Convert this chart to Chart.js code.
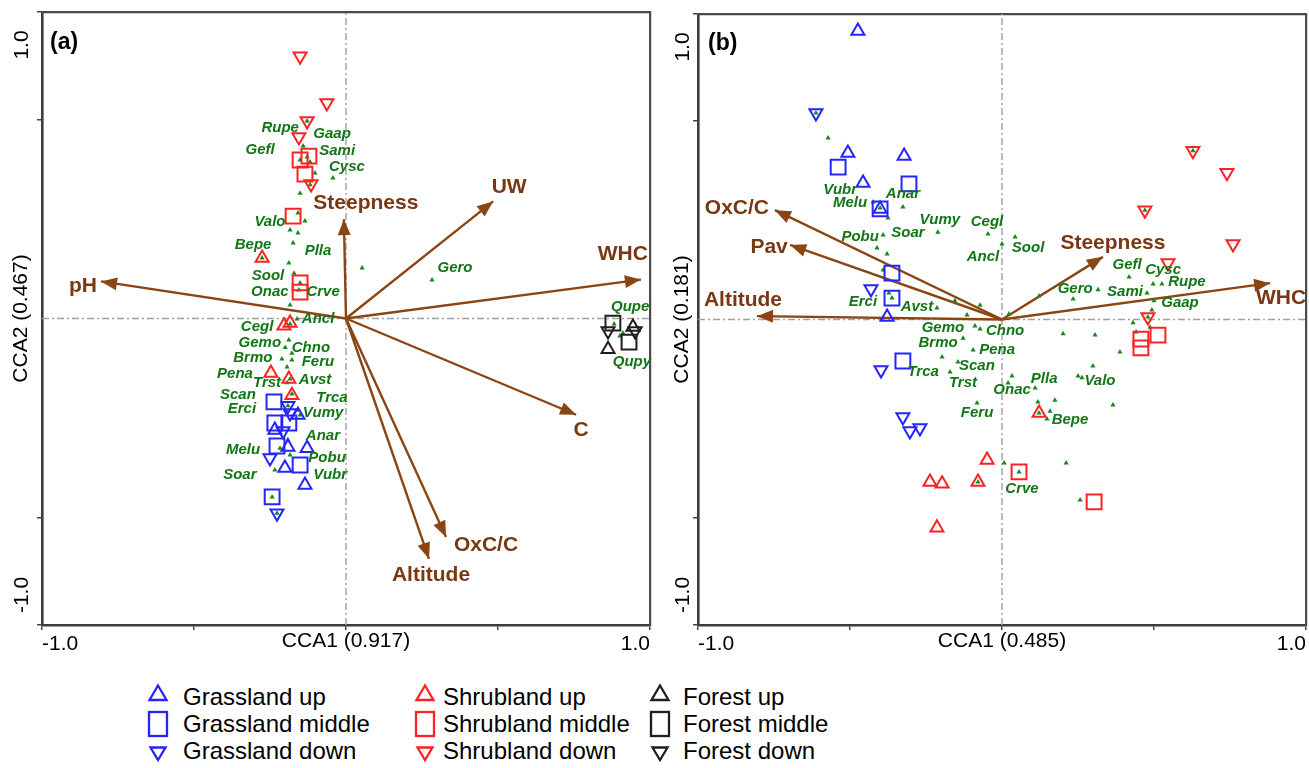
<!DOCTYPE html>
<html><head><meta charset="utf-8">
<script src="https://cdn.jsdelivr.net/npm/chart.js@4.4.1/dist/chart.umd.min.js"></script>
<style>
html,body{margin:0;padding:0;background:#fff;}
body{width:1309px;height:768px;overflow:hidden;position:relative;font-family:"Liberation Sans",Arial,sans-serif;}
#ca{position:absolute;left:0;top:0;}
#cb{position:absolute;left:655px;top:0;}
.lgt{position:absolute;font-size:24px;line-height:24px;color:#000;white-space:nowrap;}
.lgs{position:absolute;}
</style></head><body>
<canvas id="ca" width="662" height="660"></canvas>
<canvas id="cb" width="654" height="660"></canvas>
<div id="legend"></div>
<script>
// ================= DATA : panel (a) =================
const axisTitlesA = ['CCA1 (0.917)', 'CCA2 (0.467)'];
const envNamesA = ['pH','Steepness','UW','WHC','C','OxC/C','Altitude'];
const envPtsA = [[-0.806,0.121],[-0.007,0.324],[0.484,0.382],[0.970,0.127],[0.757,-0.314],[0.329,-0.713],[0.273,-0.784]];
const speciesNamesA = ['Rupe','Gaap','Gefl','Sami','Cysc','Valo','Bepe','Plla','Sool','Onac','Crve','Gero','Ancl','Cegl','Gemo','Chno','Brmo','Feru','Pena','Trst','Avst','Scan','Trca','Erci','Vumy','Anar','Melu','Pobu','Soar','Vubr','Qupe','Qupy'];
const speciesPtsA = [[-0.141,0.563],[-0.128,0.527],[-0.151,0.517],[-0.118,0.511],[-0.043,0.458],[-0.158,0.344],[-0.276,0.197],[-0.158,0.279],[-0.171,0.148],[-0.155,0.093],[-0.151,0.116],[0.283,0.126],[-0.161,-0.002],[-0.184,-0.018],[-0.188,-0.070],[-0.178,-0.113],[-0.211,-0.132],[-0.178,-0.135],[-0.194,-0.158],[-0.194,-0.210],[-0.184,-0.197],[-0.178,-0.246],[-0.158,-0.299],[-0.191,-0.285],[-0.151,-0.315],[-0.191,-0.396],[-0.217,-0.423],[-0.184,-0.445],[-0.234,-0.494],[-0.243,-0.582],[0.882,-0.018],[0.901,-0.057]];
const otherSpeciesA = [[-0.151,0.409],[-0.118,0.436],[-0.102,0.475],[-0.135,0.318],[-0.184,0.289],[-0.174,0.246],[-0.188,0.181],[0.053,0.165],[-0.184,0.044],[-0.128,0.644],[-0.227,-0.635],[0.911,-0.047],[-0.200,-0.095]];
const grassUpA   = [[-0.158,-0.315],[-0.234,-0.364],[-0.191,-0.419],[-0.128,-0.423],[-0.201,-0.488],[-0.135,-0.543]];
const grassMidA  = [[-0.237,-0.272],[-0.234,-0.341],[-0.188,-0.341],[-0.227,-0.416],[-0.151,-0.478],[-0.243,-0.582]];
const grassDownA = [[-0.191,-0.285],[-0.184,-0.308],[-0.207,-0.367],[-0.250,-0.455],[-0.227,-0.635]];
const shrubUpA   = [[-0.276,0.197],[-0.184,-0.015],[-0.204,-0.024],[-0.247,-0.178],[-0.188,-0.197],[-0.178,-0.250]];
const shrubMidA  = [[-0.122,0.530],[-0.151,0.517],[-0.135,0.471],[-0.174,0.334],[-0.151,0.116],[-0.151,0.086]];
const shrubDownA = [[-0.151,0.856],[-0.063,0.703],[-0.128,0.644],[-0.155,0.592],[-0.115,0.439]];
const forestUpA  = [[0.862,-0.100],[0.944,-0.028]];
const forestMidA = [[0.878,-0.015],[0.931,-0.077]];
const forestDownA= [[0.862,-0.041],[0.951,-0.041]];

// ================= DATA : panel (b) =================
const axisTitlesB = ['CCA1 (0.485)', 'CCA2 (0.181)'];
const envNamesB = ['OxC/C','Pav','Altitude','Steepness','WHC'];
const envPtsB = [[-0.747,0.358],[-0.697,0.244],[-0.806,0.011],[0.332,0.205],[0.882,0.119]];
const speciesNamesB = ['Vubr','Melu','Anar','Pobu','Soar','Vumy','Cegl','Ancl','Sool','Erci','Avst','Gemo','Chno','Brmo','Pena','Trca','Scan','Trst','Onac','Plla','Feru','Bepe','Valo','Crve','Gero','Gefl','Cysc','Sami','Rupe','Gaap'];
const speciesPtsB = [[-0.401,0.365],[-0.424,0.385],[-0.326,0.368],[-0.391,0.277],[-0.375,0.332],[-0.211,0.286],[-0.046,0.280],[0.000,0.247],[0.043,0.270],[-0.372,0.087],[-0.214,0.038],[-0.089,-0.021],[-0.072,-0.031],[-0.128,-0.061],[-0.095,-0.100],[-0.197,-0.123],[-0.145,-0.139],[-0.171,-0.172],[0.020,-0.208],[0.109,-0.224],[-0.082,-0.273],[0.148,-0.326],[0.263,-0.191],[0.056,-0.499],[0.234,0.067],[0.418,0.139],[0.497,0.116],[0.477,0.087],[0.526,0.116],[0.500,0.061]];
const otherSpeciesB = [[-0.572,0.594],[-0.612,0.676],[0.033,-0.185],[0.122,0.077],[0.201,-0.047],[0.250,-0.185],[0.174,-0.264],[0.158,-0.300],[0.118,-0.270],[0.122,-0.306],[0.007,-0.470],[0.211,-0.470],[0.257,-0.591],[-0.079,-0.532],[0.628,0.552],[0.470,0.358],[0.480,0.008],[0.431,-0.011],[0.306,-0.051],[0.441,-0.041],[0.487,-0.025],[0.388,-0.106],[0.493,0.031],[-0.155,0.061],[-0.072,0.047],[-0.115,0.015],[0.023,0.018],[-0.411,0.234],[-0.378,0.214],[-0.391,0.162],[0.365,-0.280],[0.299,-0.152],[0.316,0.097],[-0.362,0.070]];
const grassUpB   = [[-0.474,0.944],[-0.507,0.545],[-0.322,0.535],[-0.457,0.447],[-0.401,0.362],[-0.378,0.008]];
const grassMidB  = [[-0.539,0.499],[-0.306,0.444],[-0.401,0.362],[-0.362,0.152],[-0.362,0.070],[-0.326,-0.136]];
const grassDownB = [[-0.612,0.676],[-0.431,0.100],[-0.398,-0.165],[-0.326,-0.319],[-0.303,-0.365],[-0.270,-0.355]];
const shrubUpB   = [[0.122,-0.306],[-0.049,-0.460],[-0.237,-0.532],[-0.197,-0.538],[-0.079,-0.532],[-0.214,-0.682]];
const shrubMidB  = [[0.513,-0.051],[0.457,-0.064],[0.457,-0.093],[0.056,-0.499],[0.303,-0.597]];
const shrubDownB = [[0.628,0.552],[0.740,0.480],[0.470,0.358],[0.760,0.247],[0.546,0.185],[0.480,0.008]];
const forestUpB = [], forestMidB = [], forestDownB = [];

// tick values / labels
const xTickVals = [-1,-0.5,0,0.5,1];
const yTickVals = [-1,-0.65,0.65,1];
const endTickLabels = ['-1.0','1.0'];
const legendLabels = [['Grassland up','Grassland middle','Grassland down'],['Shrubland up','Shrubland middle','Shrubland down'],['Forest up','Forest middle','Forest down']];

// ================= LAYOUT (pixel offsets of text labels) =================
const envLabelOffA = [[-18,5],[22,-16],[16,-14],[-18,-25],[5,15],[40,8],[2,16]];
const speciesLabelOffA = [[-23,-18],[25,-23],[-40,-10],[27,-11],[14,-11],[-28,9],[-9,-13],[20,18],[-26,3],[-29,2],[23,9],[23,-12],[21,0],[-33,3],[-29,3],[19,-5],[-29,-1],[26,2],[-52,7],[-20,0],[25,1],[-54,1],[34,-12],[-46,3],[23,-2],[35,-4],[-37,2],[37,3],[-35,5],[58,-22],[16,-17],[12,26]];
const envLabelOffB = [[-38,-2],[-21,2],[-14,-16],[10,-14],[11,15]];
const speciesLabelOffB = [[-40,-18],[-23,1],[0,-13],[-23,2],[20,15],[2,-12],[-1,-12],[-19,13],[13,11],[-26,9],[-20,-1],[-32,2],[25,2],[-25,5],[24,0],[-19,15],[19,4],[13,11],[4,7],[9,-9],[0,10],[23,1],[18,3],[3,17],[2,-10],[-2,-12],[10,-14],[-22,-1],[25,-2],[26,2]];

// ================= STYLE =================
const FONT = '"Liberation Sans", Arial, sans-serif';
const BROWN = '#8B4513', LBROWN = '#7a3812';
const GREEN = '#17881b', GLABEL = '#127516';
const BLUE = '#2424ff', RED = '#ff2222', BLACK = '#1e1e1e';
const groupColors = [BLUE, RED, BLACK];

const pts = a => a.map(p => ({x:p[0], y:p[1]}));

function sampleDs(arr, color, shape) {
  const base = {type:'scatter', data:pts(arr), backgroundColor:'rgba(0,0,0,0)', borderColor:color,
    pointBorderWidth:2, borderWidth:2, order:1, xAxisID:'x', yAxisID:'y'};
  if (shape === 'up') return Object.assign(base, {pointStyle:'triangle', pointRadius:7.5, pointRotation:0});
  if (shape === 'down') return Object.assign(base, {pointStyle:'triangle', pointRadius:7.5, pointRotation:180});
  return Object.assign(base, {pointStyle:'rect', pointRadius:10.5});
}

function buildDatasets(P) {
  const ds = [];
  const dash = {type:'line', borderColor:'#a0a0a0', borderWidth:1.4, borderDash:[7,3,2,3], pointRadius:0, order:20, xAxisID:'x', yAxisID:'y'};
  ds.push(Object.assign({data:[{x:-1,y:0},{x:1,y:0}]}, dash));
  ds.push(Object.assign({data:[{x:0,y:-1},{x:0,y:1}]}, dash));
  P.envNames.forEach((n,i) => ds.push({type:'line', label:n, kind:'arrow', labelOffset:P.envOff[i],
    data:[{x:0,y:0},{x:P.envPts[i][0], y:P.envPts[i][1]}], borderColor:BROWN, borderWidth:2.4,
    pointRadius:0, order:15, xAxisID:'x', yAxisID:'y'}));
  const sp = {type:'scatter', pointStyle:'triangle', pointRadius:3, backgroundColor:GREEN, borderColor:GREEN, borderWidth:0, order:10, xAxisID:'x', yAxisID:'y'};
  ds.push(Object.assign({kind:'species', names:P.spNames, offsets:P.spOff, data:pts(P.spPts)}, sp));
  ds.push(Object.assign({data:pts(P.spOther)}, sp));
  const groups = [[P.gU,P.gM,P.gD],[P.sU,P.sM,P.sD],[P.fU,P.fM,P.fD]];
  groups.forEach((g,gi) => { ['up','mid','down'].forEach((s,si) => ds.push(sampleDs(g[si], groupColors[gi], s))); });
  return ds;
}

const decor = {
  id:'decor',
  afterDatasetsDraw(chart) {
    const ctx = chart.ctx;
    chart.data.datasets.forEach((d,i) => {
      const meta = chart.getDatasetMeta(i);
      if (d.kind === 'arrow') {
        const p0 = meta.data[0], p1 = meta.data[1];
        const a = Math.atan2(p1.y - p0.y, p1.x - p0.x);
        const L = 16, W = 6.5;
        const bx = p1.x - L*Math.cos(a), by = p1.y - L*Math.sin(a);
        ctx.save();
        ctx.fillStyle = BROWN;
        ctx.beginPath();
        ctx.moveTo(p1.x, p1.y);
        ctx.lineTo(bx + W*Math.sin(a), by - W*Math.cos(a));
        ctx.lineTo(bx - W*Math.sin(a), by + W*Math.cos(a));
        ctx.closePath(); ctx.fill();
        ctx.font = 'bold 21px ' + FONT;
        ctx.fillStyle = LBROWN; ctx.textAlign = 'center'; ctx.textBaseline = 'middle';
        ctx.fillText(d.label, p1.x + d.labelOffset[0], p1.y + d.labelOffset[1]);
        ctx.restore();
      }
      if (d.kind === 'species') {
        ctx.save();
        ctx.font = 'italic bold 15px ' + FONT;
        ctx.fillStyle = GLABEL; ctx.textAlign = 'center'; ctx.textBaseline = 'middle';
        meta.data.forEach((el,j) => ctx.fillText(d.names[j], el.x + d.offsets[j][0], el.y + d.offsets[j][1]));
        ctx.restore();
      }
    });
  },
  afterDraw(chart, args, o) {
    const ctx = chart.ctx, ca = chart.chartArea, ys = chart.scales.y;
    ctx.save();
    ctx.fillStyle = '#000';
    ctx.font = 'bold 23px ' + FONT;
    ctx.textAlign = 'left'; ctx.textBaseline = 'middle';
    ctx.fillText(o.letter, ca.left + o.letterDx, ca.top + o.letterDy);
    ctx.font = '21px ' + FONT;
    ctx.textAlign = 'center';
    const place = [[endTickLabels[1], ys.getPixelForValue(1) + 33],[endTickLabels[0], ys.getPixelForValue(-1) - 30]];
    place.forEach(([t,y]) => {
      ctx.save(); ctx.translate(o.yLabX, y); ctx.rotate(-Math.PI/2); ctx.fillText(t, 0, 0); ctx.restore();
    });
    ctx.restore();
  }
};

function makeChart(id, P) {
  const frame = {display:true, color:'#4a4a4a', width:2.2};
  return new Chart(document.getElementById(id), {
    type:'scatter',
    data:{datasets:buildDatasets(P)},
    plugins:[decor],
    options:{
      responsive:false, animation:false, events:[],
      layout:{padding:P.pad, autoPadding:false},
      plugins:{legend:{display:false}, tooltip:{enabled:false},
        decor:{letter:P.letter, letterDx:P.letterDx, letterDy:P.letterDy, yLabX:P.yLabX}},
      scales:{
        x:{type:'linear', axis:'x', position:'bottom', min:-1, max:1,
          afterBuildTicks:s => { s.ticks = xTickVals.map(v => ({value:v})); },
          afterFit:s => { s.height = 35; s.paddingLeft = 0; s.paddingRight = 0; },
          grid:{drawOnChartArea:false, drawTicks:true, tickLength:5, color:'#444', lineWidth:1.5},
          border:{display:true, color:'#3c3c3c', width:2.6},
          ticks:{autoSkip:false, align:'inner', padding:2, maxRotation:0, color:'#000', font:{family:FONT, size:21},
            callback:v => v === -1 ? endTickLabels[0] : (v === 1 ? endTickLabels[1] : '')},
          title:{display:true, text:P.titles[0], color:'#000', font:{family:FONT, size:21}, padding:{top:0, bottom:6}}
        },
        y:{type:'linear', axis:'y', position:'left', min:-1, max:1,
          afterBuildTicks:s => { s.ticks = yTickVals.map(v => ({value:v})); },
          afterFit:s => { s.width = P.yWidth; s.paddingTop = 0; s.paddingBottom = 0; },
          grid:{drawOnChartArea:false, drawTicks:true, tickLength:5, color:'#444', lineWidth:1.5},
          border:{display:true, color:'#3c3c3c', width:2.6},
          ticks:{display:false},
          title:{display:true, text:P.titles[1], color:'#000', font:{family:FONT, size:21}, padding:{top:P.yTitlePad, bottom:0}}
        },
        xTop:{type:'linear', axis:'x', position:'top', min:-1, max:1, grid:{display:false}, ticks:{display:false},
          border:frame, afterFit:s => { s.height = 0; s.paddingLeft = 0; s.paddingRight = 0; }},
        yRight:{type:'linear', axis:'y', position:'right', min:-1, max:1, grid:{display:false}, ticks:{display:false},
          border:frame, afterFit:s => { s.width = 0; s.paddingTop = 0; s.paddingBottom = 0; }}
      }
    }
  });
}

makeChart('ca', {titles:axisTitlesA, envNames:envNamesA, envPts:envPtsA, envOff:envLabelOffA,
  spNames:speciesNamesA, spPts:speciesPtsA, spOff:speciesLabelOffA, spOther:otherSpeciesA,
  gU:grassUpA, gM:grassMidA, gD:grassDownA, sU:shrubUpA, sM:shrubMidA, sD:shrubDownA, fU:forestUpA, fM:forestMidA, fD:forestDownA,
  pad:{left:0, top:12, right:12, bottom:0}, yWidth:42, yTitlePad:9, letter:'(a)', letterDx:8, letterDy:31, yLabX:22});
makeChart('cb', {titles:axisTitlesB, envNames:envNamesB, envPts:envPtsB, envOff:envLabelOffB,
  spNames:speciesNamesB, spPts:speciesPtsB, spOff:speciesLabelOffB, spOther:otherSpeciesB,
  gU:grassUpB, gM:grassMidB, gD:grassDownB, sU:shrubUpB, sM:shrubMidB, sD:shrubDownB, fU:forestUpB, fM:forestMidB, fD:forestDownB,
  pad:{left:0, top:14, right:3, bottom:0}, yWidth:43, yTitlePad:15, letter:'(b)', letterDx:10, letterDy:30, yLabX:28});

// ================= LEGEND (HTML) =================
(function(){
  const L = document.getElementById('legend');
  const symX = [158, 425, 660], txtX = [183, 443, 683], rowY = [697, 724, 751];
  const shapes = [
    c => `<svg class="lgs" width="22" height="20" style="left:-11px;top:-14px"><polygon points="11,2.5 19.5,17 2.5,17" fill="none" stroke="${c}" stroke-width="2.3"/></svg>`,
    c => `<svg class="lgs" width="24" height="30" style="left:-12px;top:-15px"><rect x="3" y="3" width="18" height="24" fill="none" stroke="${c}" stroke-width="2.3"/></svg>`,
    c => `<svg class="lgs" width="20" height="18" style="left:-10px;top:-6px"><polygon points="2.5,2.5 17.5,2.5 10,15" fill="none" stroke="${c}" stroke-width="2.3"/></svg>`
  ];
  let html = '';
  legendLabels.forEach((col,ci) => col.forEach((t,ri) => {
    html += `<div style="position:absolute;left:${symX[ci]}px;top:${rowY[ri]}px;width:0;height:0">${shapes[ri](groupColors[ci])}</div>`;
    html += `<div class="lgt" style="left:${txtX[ci]}px;top:${rowY[ri]-12}px">${t}</div>`;
  }));
  L.innerHTML = html;
})();
</script></body></html>
